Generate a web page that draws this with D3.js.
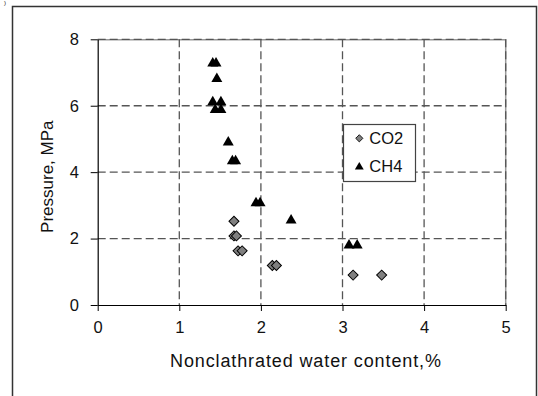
<!DOCTYPE html>
<html>
<head>
<meta charset="utf-8">
<script src="https://cdn.jsdelivr.net/npm/d3@7"></script>
<style>
  body { margin: 0; background: #fff; }
  svg text { font-family: "Liberation Sans", Arial, sans-serif; fill: #111; }
</style>
</head>
<body>
<div id="chartArea"></div>
<script>
// data
var co2X = [1.67, 1.67, 1.70, 1.72, 1.77, 2.14, 2.19, 3.13, 3.48];
var co2Y = [2.52, 2.08, 2.08, 1.63, 1.63, 1.19, 1.19, 0.90, 0.90];
var ch4X = [1.41, 1.45, 1.46, 1.41, 1.51, 1.44, 1.51, 1.60, 1.65, 1.69, 1.94, 1.99, 2.37, 3.08, 3.18];
var ch4Y = [7.31, 7.31, 6.84, 6.14, 6.14, 5.91, 5.91, 4.93, 4.36, 4.36, 3.10, 3.10, 2.58, 1.83, 1.83];
var xTicks = [0, 1, 2, 3, 4, 5];
var yTicks = [0, 2, 4, 6, 8];
var seriesNames = ['CO2', 'CH4'];

function chartScatter() {
    var width = 538, height = 396;
    var margin = {top: 39.3, right: 32.3, bottom: 91, left: 97.7};
    var w = width - margin.left - margin.right;
    var h = height - margin.top - margin.bottom;

    var xscale = d3.scaleLinear().domain([0, 5]).range([0, w]);
    var yscale = d3.scaleLinear().domain([0, 8]).range([h, 0]);

    var svg = d3.select('#chartArea').append('svg')
        .attr('width', width)
        .attr('height', height);

    // outer frame (bottom runs off the picture)
    svg.append('path')
        .attr('d', 'M12.5,400 V6.5 H536.5 V400')
        .attr('fill', 'none')
        .attr('stroke', '#333')
        .attr('stroke-width', 1.5);

    // remains of a panel label at the top-left corner
    svg.append('text').attr('x', 4).attr('y', 5).style('font-size', '6px').text(')');

    var g = svg.append('g')
        .attr('transform', 'translate(' + margin.left + ',' + margin.top + ')');

    // plot border top/right
    g.append('path')
        .attr('d', 'M0,0.5 H' + w + ' V' + h)
        .attr('fill', 'none')
        .attr('stroke', '#999')
        .attr('stroke-width', 1.5);

    // gridlines
    g.selectAll('.hgrid').data(yTicks.filter(function(d){ return d > 0; })).enter().append('line')
        .attr('x1', 0).attr('x2', w)
        .attr('y1', function(d){ return yscale(d); })
        .attr('y2', function(d){ return yscale(d); })
        .attr('stroke', '#555')
        .attr('stroke-width', 1.3)
        .attr('stroke-dasharray', '8,4');
    g.selectAll('.vgrid').data(xTicks.filter(function(d){ return d > 0; })).enter().append('line')
        .attr('y1', 0).attr('y2', h)
        .attr('x1', function(d){ return xscale(d); })
        .attr('x2', function(d){ return xscale(d); })
        .attr('stroke', '#555')
        .attr('stroke-width', 1.3)
        .attr('stroke-dasharray', '8,4');

    // axes
    var xAxis = g.append('g')
        .attr('transform', 'translate(0,' + h + ')')
        .call(d3.axisBottom(xscale).tickValues(xTicks).tickFormat(d3.format('d'))
              .tickSize(6).tickPadding(10.2).tickSizeOuter(0));
    var yAxis = g.append('g')
        .call(d3.axisLeft(yscale).tickValues(yTicks).tickFormat(d3.format('d'))
              .tickSize(7).tickPadding(11.7).tickSizeOuter(0));
    [xAxis, yAxis].forEach(function(a) {
        a.select('.domain').attr('stroke', '#000').attr('stroke-width', 1.2);
        a.selectAll('.tick line').attr('stroke', '#000');
        a.selectAll('.tick text')
            .style('font-size', '16.5px')
            .style('font-family', '"Liberation Sans", Arial, sans-serif')
            .attr('fill', '#111');
    });

    // axis titles
    svg.append('text')
        .attr('x', 170).attr('y', 366.7)
        .attr('textLength', 271)
        .attr('lengthAdjust', 'spacing')
        .style('font-size', '18px')
        .text('Nonclathrated water content,%');
    svg.append('text')
        .attr('transform', 'translate(52.5,176.7) rotate(-90)')
        .attr('text-anchor', 'middle')
        .style('font-size', '17px')
        .text('Pressure, MPa');

    var diamond = d3.symbol().type(d3.symbolSquare).size(50);
    var triangle = d3.symbol().type(d3.symbolTriangle).size(52);

    var co2 = co2X.map(function(x, i){ return {x: x, y: co2Y[i]}; });
    var ch4 = ch4X.map(function(x, i){ return {x: x, y: ch4Y[i]}; });

    g.selectAll('.co2').data(co2).enter().append('path')
        .attr('d', diamond)
        .attr('transform', function(d){ return 'translate(' + xscale(d.x) + ',' + yscale(d.y) + ') rotate(45)'; })
        .attr('fill', '#808080')
        .attr('stroke', '#000')
        .attr('stroke-width', 1);

    g.selectAll('.ch4').data(ch4).enter().append('path')
        .attr('d', triangle)
        .attr('transform', function(d){ return 'translate(' + xscale(d.x) + ',' + (yscale(d.y) + 1) + ')'; })
        .attr('fill', '#000');

    // legend
    var lg = svg.append('g');
    lg.append('rect')
        .attr('x', 343.5).attr('y', 124.5)
        .attr('width', 72).attr('height', 57)
        .attr('fill', '#fff')
        .attr('stroke', '#444')
        .attr('stroke-width', 1.2);
    lg.append('path')
        .attr('d', d3.symbol().type(d3.symbolSquare).size(26))
        .attr('transform', 'translate(359.3,138.3) rotate(45)')
        .attr('fill', '#808080').attr('stroke', '#000').attr('stroke-width', 0.8);
    lg.append('path')
        .attr('d', d3.symbol().type(d3.symbolTriangle).size(34))
        .attr('transform', 'translate(359.3,167)')
        .attr('fill', '#000');
    lg.selectAll('.lt').data(seriesNames).enter().append('text')
        .attr('x', 369.3)
        .attr('y', function(d, i){ return 143.8 + i * 28.4; })
        .style('font-size', '16.5px')
        .text(function(d){ return d; });
}
chartScatter();
</script>
</body>
</html>
